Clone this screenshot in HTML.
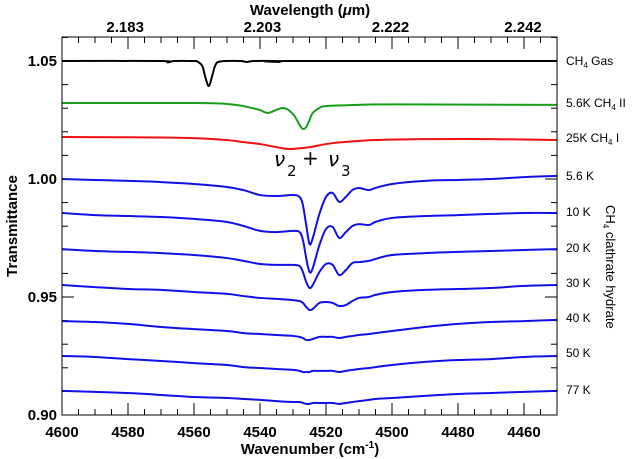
<!DOCTYPE html>
<html><head><meta charset="utf-8">
<style>
html,body{margin:0;padding:0;background:#fff;}
svg{display:block;font-family:"Liberation Sans",sans-serif;}
.tl{font-weight:bold;font-size:15px;fill:#000;}
.rl{font-size:12px;fill:#000;}
</style></head>
<body>
<svg id="chart" width="636" height="459" viewBox="0 0 636 459">
  <g id="ticks"></g>
  <g id="series"></g>
  <rect x="62" y="37" width="495" height="378" fill="none" stroke="#000" stroke-width="1"/>
  <g id="labels"></g>
  <text x="310" y="15" text-anchor="middle" class="tl">Wavelength (<tspan font-style="italic">μ</tspan>m)</text>
  <text x="310" y="454" text-anchor="middle" class="tl">Wavenumber (cm<tspan font-size="10" dy="-6">-1</tspan><tspan dy="6">)</tspan></text>
  <text transform="translate(17,226) rotate(-90)" text-anchor="middle" class="tl">Transmittance</text>
  <g font-family="'DejaVu Sans',sans-serif" font-size="20" font-style="italic">
    <text x="274" y="166">ν</text><text x="287" y="176" font-size="15" font-style="normal">2</text>
    <text x="302" y="165" font-style="normal">+</text>
    <text x="328" y="166">ν</text><text x="341" y="176" font-size="15" font-style="normal">3</text>
  </g>
  <g class="rl">
    <text x="566" y="65">CH<tspan font-size="8" dy="3">4</tspan><tspan dy="-3"> Gas</tspan></text>
    <text x="566" y="107">5.6K CH<tspan font-size="8" dy="3">4</tspan><tspan dy="-3"> II</tspan></text>
    <text x="566" y="142">25K CH<tspan font-size="8" dy="3">4</tspan><tspan dy="-3"> I</tspan></text>
    <text x="566" y="180">5.6 K</text>
    <text x="566" y="216">10 K</text>
    <text x="566" y="252">20 K</text>
    <text x="566" y="287">30 K</text>
    <text x="566" y="322">40 K</text>
    <text x="566" y="357">50 K</text>
    <text x="566" y="394">77 K</text>
    <text transform="translate(606,205) rotate(90)" font-size="13">CH<tspan font-size="8" dy="3">4</tspan><tspan dy="-3"> clathrate hydrate</tspan></text>
  </g>
</svg>
<script>
const xTickLabels = [4600, 4580, 4560, 4540, 4520, 4500, 4480, 4460];
const yTickLabels = [0.90, 0.95, 1.00, 1.05];
const topTickLabels = [2.183, 2.203, 2.222, 2.242];

const gasWn = [4600,4570,4568,4566,4560,4559,4557.5,4556.5,4555.5,4554.5,4553.5,4552,4546,4544,4542,4536,4534,4532,4450];
const gasT  = [1.05,1.05,1.0494,1.05,1.05,1.0498,1.0479,1.0428,1.0394,1.0436,1.0483,1.0498,1.05,1.0496,1.05,1.05,1.0496,1.05,1.05];

const ch4iiWn = [4600,4560,4550,4545,4540,4537.5,4533,4530,4528,4527,4526,4525,4524,4522,4520,4510,4500,4450];
const ch4iiT  = [1.0322,1.0322,1.0318,1.0309,1.0292,1.0280,1.0301,1.0275,1.0229,1.0212,1.0220,1.0250,1.0280,1.0301,1.0309,1.0314,1.0316,1.0314];

const ch4iWn = [4600,4570,4560,4550,4545,4540,4535,4531,4525,4520,4515,4505,4490,4470,4450];
const ch4iT  = [1.0178,1.0176,1.0173,1.0165,1.0156,1.0148,1.0135,1.0127,1.0135,1.0148,1.0156,1.0165,1.0169,1.0169,1.0165];

const hydWn = [4600,4590,4580,4570,4560,4550,4545,4540,4535,4530,4528,4527,4526,4525,4524,4522,4520,4518,4516,4514,4512,4510,4507,4505,4500,4490,4480,4470,4460,4450];
const t5_6K = [1.0000,0.9996,0.9992,0.9987,0.9979,0.9966,0.9953,0.9932,0.9928,0.9932,0.9924,0.9890,0.9805,0.9725,0.9750,0.9852,0.9924,0.9941,0.9903,0.9924,0.9953,0.9962,0.9953,0.9962,0.9979,0.9992,0.9996,1.0000,1.0008,1.0013];
const t10K = [0.9856,0.9847,0.9843,0.9839,0.9831,0.9818,0.9801,0.9780,0.9775,0.9780,0.9775,0.9742,0.9665,0.9606,0.9623,0.9720,0.9788,0.9797,0.9750,0.9775,0.9801,0.9809,0.9805,0.9818,0.9835,0.9843,0.9847,0.9852,0.9856,0.9856];
const t20K = [0.9703,0.9695,0.9691,0.9686,0.9678,0.9665,0.9653,0.9640,0.9636,0.9636,0.9631,0.9606,0.9564,0.9538,0.9551,0.9606,0.9640,0.9636,0.9593,0.9614,0.9644,0.9648,0.9653,0.9661,0.9678,0.9686,0.9691,0.9695,0.9699,0.9703];
const t30K = [0.9551,0.9542,0.9534,0.9530,0.9521,0.9513,0.9504,0.9496,0.9492,0.9487,0.9483,0.9475,0.9458,0.9445,0.9449,0.9475,0.9479,0.9475,0.9462,0.9466,0.9483,0.9496,0.9500,0.9509,0.9521,0.9530,0.9534,0.9538,0.9547,0.9551];
const t40K = [0.9398,0.9394,0.9386,0.9373,0.9364,0.9356,0.9347,0.9343,0.9339,0.9335,0.9331,0.9326,0.9318,0.9318,0.9322,0.9331,0.9331,0.9331,0.9326,0.9331,0.9335,0.9339,0.9343,0.9347,0.9356,0.9373,0.9386,0.9394,0.9398,0.9403];
const t50K = [0.9250,0.9246,0.9237,0.9229,0.9220,0.9212,0.9203,0.9199,0.9195,0.9191,0.9187,0.9182,0.9182,0.9182,0.9187,0.9187,0.9187,0.9187,0.9182,0.9187,0.9191,0.9195,0.9199,0.9203,0.9212,0.9225,0.9233,0.9237,0.9246,0.9250];
const t77K = [0.9102,0.9098,0.9093,0.9085,0.9076,0.9072,0.9068,0.9064,0.9059,0.9055,0.9055,0.9051,0.9047,0.9047,0.9051,0.9051,0.9051,0.9051,0.9047,0.9051,0.9055,0.9059,0.9064,0.9068,0.9072,0.9081,0.9089,0.9093,0.9098,0.9102];

const NS = 'http://www.w3.org/2000/svg';
const X0 = 62, X1 = 557, Y0 = 37, Y1 = 415;
function xs(w){ return X0 + (4600 - w) / 150 * (X1 - X0); }
function ys(t){ return Y1 - (t - 0.90) * 2360; }

function mk(tag, attrs, parent){
  const el = document.createElementNS(NS, tag);
  for (const k in attrs) el.setAttribute(k, attrs[k]);
  parent.appendChild(el);
  return el;
}
function smoothPath(wn, tv){
  const p = wn.map((w,i)=>[xs(w), ys(tv[i])]);
  let d = 'M' + p[0][0].toFixed(2) + ',' + p[0][1].toFixed(2);
  for (let i=0;i<p.length-1;i++){
    const p0 = p[Math.max(0,i-1)], p1 = p[i], p2 = p[i+1], p3 = p[Math.min(p.length-1,i+2)];
    const c1x = p1[0] + (p2[0]-p0[0])/6, c1y = p1[1] + (p2[1]-p0[1])/6;
    const c2x = p2[0] - (p3[0]-p1[0])/6, c2y = p2[1] - (p3[1]-p1[1])/6;
    d += ' C' + c1x.toFixed(2)+','+c1y.toFixed(2)+' '+c2x.toFixed(2)+','+c2y.toFixed(2)+' '+p2[0].toFixed(2)+','+p2[1].toFixed(2);
  }
  return d;
}

const ticks = document.getElementById('ticks');
const labels = document.getElementById('labels');
for (let w = 4600; w >= 4450; w -= 5){
  const major = (w % 20 === 0);
  const len = major ? 12 : 6;
  const x = xs(w);
  const t1 = mk('line', {x1:x, x2:x, y1:Y1, y2:Y1-len, stroke:'#000', 'stroke-width':1}, ticks);
  
  
  const t2 = mk('line', {x1:x, x2:x, y1:Y0, y2:Y0+len, stroke:'#000', 'stroke-width':1}, ticks);
  
  
}
xTickLabels.forEach(w=>{
  const t = mk('text', {x:xs(w), y:437, 'text-anchor':'middle', class:'tl'}, labels);
  t.textContent = w;
  
  
});
topTickLabels.forEach(l=>{
  const t = mk('text', {x:xs(1e4/l), y:32, 'text-anchor':'middle', class:'tl'}, labels);
  t.textContent = l.toFixed(3);
  
  
});
for (let k = 0; k <= 16; k++){
  const v = 0.90 + k*0.01;
  const y = ys(v);
  const major = (k % 5 === 0);
  const len = major ? 12 : 6;
  const a = mk('line', {x1:X0, x2:X0+len, y1:y, y2:y, stroke:'#000', 'stroke-width':1}, ticks);
  
  
  const b = mk('line', {x1:X1, x2:X1-len, y1:y, y2:y, stroke:'#000', 'stroke-width':1}, ticks);
  
  
}
yTickLabels.forEach(v=>{
  const t = mk('text', {x:57, y:ys(v)+5, 'text-anchor':'end', class:'tl'}, labels);
  t.textContent = v.toFixed(2);
  
  
});

const series = document.getElementById('series');
function draw(wn, tv, color, name){
  const p = mk('path', {d:smoothPath(wn, tv), fill:'none', stroke:color, 'stroke-width':2, 'stroke-linejoin':'round'}, series);
  
  
}
draw(gasWn, gasT, '#000', 'series-ch4-gas');
draw(ch4iiWn, ch4iiT, '#1a9e1a', 'series-ch4-ii-5-6k');
draw(ch4iWn, ch4iT, '#f01010', 'series-ch4-i-25k');
draw(hydWn, t5_6K, '#1010e8', 'series-hydrate-5-6k');
draw(hydWn, t10K, '#1010e8', 'series-hydrate-10k');
draw(hydWn, t20K, '#1010e8', 'series-hydrate-20k');
draw(hydWn, t30K, '#1010e8', 'series-hydrate-30k');
draw(hydWn, t40K, '#1010e8', 'series-hydrate-40k');
draw(hydWn, t50K, '#1010e8', 'series-hydrate-50k');
draw(hydWn, t77K, '#1010e8', 'series-hydrate-77k');
</script>
</body></html>
